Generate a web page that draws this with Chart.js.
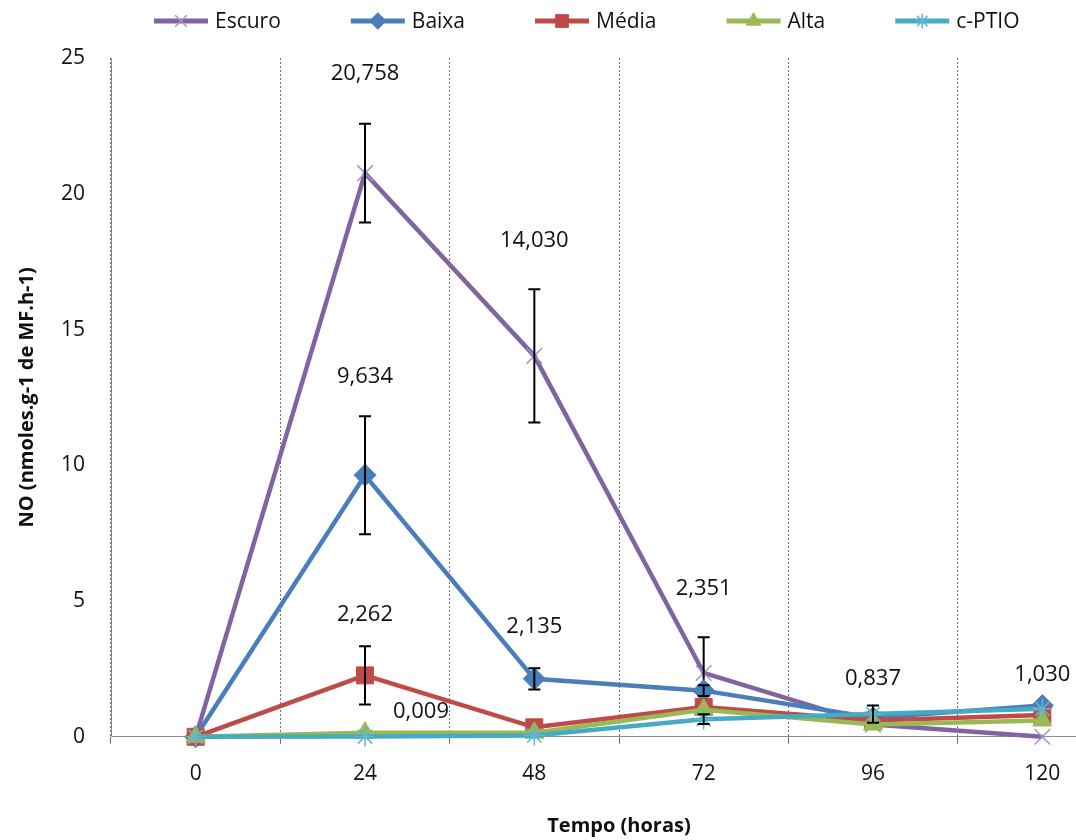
<!DOCTYPE html>
<html>
<head>
<meta charset="utf-8">
<script src="https://cdn.jsdelivr.net/npm/chart.js"></script>
<style>
html, body { margin: 0; padding: 0; background: #fff; overflow: hidden; }
#wrap { width: 1076px; height: 840px; overflow: hidden; }
canvas { display: block; }
</style>
</head>
<body>
<div id="wrap"><canvas id="grafico" width="1150" height="840"></canvas></div>
<script>
// dados
const tempos = ['0', '24', '48', '72', '96', '120'];
const escuro = [0, 20.758, 14.030, 2.351, 0.45, 0];
const baixa  = [0, 9.634, 2.135, 1.7, 0.7, 1.15];
const media  = [0, 2.262, 0.35, 1.1, 0.6, 0.8];
const alta   = [0, 0.15, 0.15, 1.0, 0.45, 0.6];
const cptio  = [0, 0.009, 0.05, 0.65, 0.837, 1.03];

// barras de erro (+/-)
const escuroErr = [0, 1.82, 2.45, 1.32, 0, 0];
const baixaErr  = [0, 2.17, 0.39, 0.2, 0, 0];
const mediaErr  = [0, 1.07, 0, 0, 0, 0];
const altaErr   = [0, 0, 0, 0, 0, 0];
const cptioErr  = [0, 0, 0, 0.18, 0.32, 0];

// rotulos de valor: serie, ponto, texto
const rotuloSerie = [0, 0, 0, 1, 1, 2, 4, 4, 4];
const rotuloPonto = [1, 2, 3, 1, 2, 1, 1, 4, 5];
const rotuloTexto = ['20,758', '14,030', '2,351', '9,634', '2,135', '2,262', '0,009', '0,837', '1,030'];

const fonte = '"Open Sans", "Noto Sans", sans-serif';
const erros = [escuroErr, baixaErr, mediaErr, altaErr, cptioErr];

// distancia do rotulo acima do topo da barra de erro
const rotuloSobe = [50, 49, 48, 40, 42, 32, 25, 27, 34];
const rotuloDesloca = [0, 0, 0, 0, 0, 0, 56, 0, 0];

const barrasErro = {
    id: 'barrasErro',
    afterDatasetDraw(chart, args) {
        const err = erros[args.index];
        const ds = chart.data.datasets[args.index];
        const ys = chart.scales.y;
        const ctx = chart.ctx;
        ctx.save();
        ctx.strokeStyle = '#000';
        ctx.lineWidth = 2;
        args.meta.data.forEach(function (p, i) {
            if (!err[i]) return;
            const v = ds.data[i];
            const yt = ys.getPixelForValue(v + err[i]);
            const yb = ys.getPixelForValue(Math.max(v - err[i], 0));
            ctx.beginPath();
            ctx.moveTo(p.x, yt); ctx.lineTo(p.x, yb);
            ctx.moveTo(p.x - 6, yt); ctx.lineTo(p.x + 6, yt);
            ctx.moveTo(p.x - 6, yb); ctx.lineTo(p.x + 6, yb);
            ctx.stroke();
        });
        ctx.restore();
    },
    afterDatasetsDraw(chart) {
        const ctx = chart.ctx;
        const ys = chart.scales.y;
        ctx.save();
        ctx.font = '22px ' + fonte;
        ctx.fillStyle = '#111';
        ctx.textAlign = 'center';
        ctx.textBaseline = 'middle';
        rotuloTexto.forEach(function (t, k) {
            const s = rotuloSerie[k], i = rotuloPonto[k];
            const p = chart.getDatasetMeta(s).data[i];
            const v = chart.data.datasets[s].data[i] + erros[s][i];
            ctx.fillText(t, p.x + rotuloDesloca[k], ys.getPixelForValue(v) - rotuloSobe[k]);
        });
        ctx.restore();
    }
};

const legenda = {
    id: 'legenda',
    afterDraw(chart) {
        const ctx = chart.ctx;
        let x = 154;
        const y = 21;
        ctx.save();
        ctx.font = '21px ' + fonte;
        ctx.textBaseline = 'middle';
        chart.data.datasets.forEach(function (ds) {
            ctx.strokeStyle = ds.borderColor;
            ctx.lineWidth = 5;
            ctx.beginPath();
            ctx.moveTo(x, y); ctx.lineTo(x + 54, y);
            ctx.stroke();
            if (Chart.helpers && Chart.helpers.drawPoint) {
                ctx.fillStyle = ds.pointBackgroundColor;
                ctx.strokeStyle = ds.pointBorderColor;
                ctx.lineWidth = ds.pointBorderWidth;
                Chart.helpers.drawPoint(ctx, {
                    pointStyle: ds.pointStyle, rotation: 0,
                    radius: ds.pointRadius * 0.75, borderWidth: ds.pointBorderWidth
                }, x + 27, y);
            }
            ctx.fillStyle = '#111';
            ctx.fillText(ds.label, x + 61, y + 1);
            x += 61 + ctx.measureText(ds.label).width + 70;
        });
        ctx.restore();
    }
};

function serie(nome, dados, cor, estilo, raio, corMarca, ordem, larguraMarca) {
    return {
        label: nome,
        data: dados,
        borderColor: cor,
        backgroundColor: cor,
        borderWidth: 4.5,
        pointStyle: estilo,
        pointRadius: raio,
        pointBackgroundColor: corMarca,
        pointBorderColor: corMarca,
        pointBorderWidth: larguraMarca,
        tension: 0,
        clip: false,
        order: ordem
    };
}

new Chart(document.getElementById('grafico'), {
    type: 'line',
    data: {
        labels: tempos,
        datasets: [
            serie('Escuro', escuro, '#8064A2', 'crossRot', 11, '#A592C6', 5, 1.5),
            serie('Baixa', baixa, '#4A7EBB', 'rectRot', 11, '#4A7EBB', 4, 1),
            serie('Média', media, '#BE4B48', 'rect', 12, '#BE4B48', 3, 1),
            serie('Alta', alta, '#98B954', 'triangle', 11, '#98B954', 2, 1),
            serie('c-PTIO', cptio, '#46AAC5', 'star', 10, '#5CB8D0', 1, 1.5)
        ]
    },
    options: {
        responsive: false,
        animation: false,
        devicePixelRatio: 1,
        layout: { padding: { top: 58, left: 5, right: 23, bottom: 2 } },
        plugins: {
            legend: { display: false },
            tooltip: { enabled: false }
        },
        scales: {
            x: {
                offset: true,
                grid: { display: true, offset: true, color: '#707070', lineWidth: 1, tickLength: 7 },
                border: { display: true, color: '#8c8c8c', dash: [2, 2] },
                ticks: { padding: 18, color: '#111', font: { family: fonte, size: 21 } },
                title: {
                    display: true, text: 'Tempo (horas)', color: '#111',
                    font: { family: fonte, size: 20, weight: 'bold' },
                    padding: { top: 9, bottom: 0 }
                }
            },
            y: {
                min: 0, max: 25,
                afterFit: function (escala) { escala.width = 106; },
                ticks: { stepSize: 5, padding: 26, color: '#111', font: { family: fonte, size: 21 } },
                grid: { display: false, drawTicks: false },
                border: { display: true, color: '#8c8c8c' },
                title: {
                    display: true, text: 'NO (nmoles.g-1 de MF.h-1)', color: '#111',
                    font: { family: fonte, size: 20, weight: 'bold' },
                    padding: { top: 10, bottom: 0 }
                }
            }
        }
    },
    plugins: [barrasErro, legenda]
});
</script>
</body>
</html>
